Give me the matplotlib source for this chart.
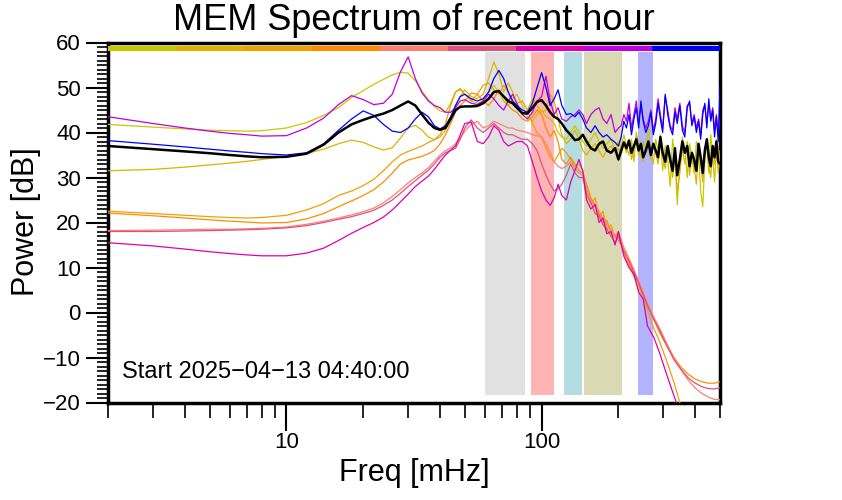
import numpy as np
import matplotlib
matplotlib.use("Agg")
import matplotlib.pyplot as plt
from matplotlib.ticker import MultipleLocator, NullFormatter, FixedLocator, FixedFormatter

plt.rcParams['font.family'] = ['Liberation Sans', 'DejaVu Sans']

# ------------------------------------------------------------
# Frequency grids [mHz]
# ------------------------------------------------------------
F_LO = [2, 3, 4, 5, 6, 7, 8, 10, 12, 14, 16, 18, 20, 22, 24, 26, 28, 30, 32, 34,
        36, 38, 40, 42, 44, 46, 48, 50, 53, 56, 59, 62, 65, 68, 71, 74, 77, 80,
        84, 88, 92, 96, 100, 104, 108, 112, 116, 120, 125, 130, 135, 140, 145,
        150, 156, 162, 168, 174, 180, 187, 194, 200]
F_FALL = [210, 220, 230, 240, 250, 260, 275, 290, 310, 330, 350, 375, 400, 425,
          450, 475, 500]
F_NOISE = [205, 210, 215, 220, 225, 230, 235, 240, 245, 250, 256, 262, 268, 274,
           280, 286, 292, 298, 305, 312, 319, 326, 333, 340, 348, 356, 364, 372,
           380, 388, 396, 404, 412, 420, 428, 436, 444, 452, 460, 468, 476, 484,
           492, 500]

# ------------------------------------------------------------
# Spectra [dB]
# ------------------------------------------------------------
yg_lo = [41.8, 41.2, 40.8, 40.5, 40.4, 40.3, 40.4, 41.0, 42.2, 43.8, 45.5, 47.8,
         49.3, 50.7, 51.8, 52.8, 53.4, 53.2, 51.5, 49.2, 47.3, 45.8, 44.8, 44.5,
         46.5, 49.0, 49.5, 48.5, 47.0, 46.5, 47.0, 49.0, 50.5, 49.0, 47.0, 46.0,
         47.5, 48.5, 46.0, 43.5, 42.5, 44.0, 45.0, 43.5, 43.0, 42.0, 40.0, 39.0,
         38.5, 40.0, 41.5, 40.0, 38.0, 37.0, 38.5, 40.0, 38.0, 36.5, 37.5, 38.5,
         36.0, 38.0]
yg_hi = [36.5, 39.5, 37.0, 35.0, 38.5, 33.5, 40.0, 37.5, 34.5, 38.0, 36.0, 41.0,
         35.0, 33.0, 38.5, 36.0, 39.5, 31.5, 37.0, 34.0, 28.0, 38.5, 35.0, 24.0,
         33.0, 39.0, 36.5, 30.0, 37.5, 34.5, 31.0, 38.0, 35.5, 27.0, 23.5, 34.0,
         37.5, 31.0, 39.5, 34.5, 29.0, 36.5, 32.0, 33.5]

gold_lo = [31.5, 31.8, 32.3, 32.8, 33.2, 33.6, 34.0, 34.7, 35.3, 36.3, 37.5, 38.3,
           37.8, 36.8, 36.1, 36.6, 38.8, 41.0, 41.6, 40.5, 39.0, 38.4, 39.0, 40.5,
           43.0, 46.0, 48.0, 49.5, 48.0, 47.5, 48.5, 52.0, 55.7, 53.0, 49.0, 51.0,
           49.0, 46.0, 44.0, 45.0, 47.5, 46.0, 44.5, 45.0, 48.5, 47.0, 43.0, 39.5,
           37.5, 38.5, 40.5, 38.5, 36.0, 35.0, 36.5, 37.5, 36.0, 34.5, 36.0, 37.0,
           35.5, 36.5]
gold_hi = [35.0, 37.5, 35.5, 38.5, 34.0, 36.5, 39.0, 35.0, 37.0, 33.5, 36.5, 38.0,
           34.0, 37.5, 35.5, 33.0, 38.5, 35.0, 32.0, 36.0, 33.5, 30.0, 34.5, 27.0,
           31.0, 36.5, 33.0, 38.0, 30.5, 35.0, 32.5, 28.5, 36.0, 33.5, 29.0, 35.5,
           37.0, 32.5, 30.0, 37.0, 33.0, 38.5, 31.0, 36.0]

or1_lo = [22.5, 22.0, 21.6, 21.3, 21.1, 21.0, 21.1, 21.6, 22.8, 24.2, 26.0, 27.0,
          28.2, 29.6, 31.5, 33.5, 35.0, 35.8, 36.4, 37.0, 37.8, 38.4, 39.5, 42.0,
          46.0, 49.0, 49.8, 48.5, 47.0, 48.5, 50.5, 51.0, 49.5, 48.5, 50.5, 49.0,
          46.5, 46.5, 47.0, 45.0, 42.0, 40.0, 39.0, 36.5, 34.5, 33.5, 35.0, 36.5,
          35.5, 34.0, 32.5, 33.0, 31.5, 27.0, 24.0, 25.5, 21.0, 22.5, 18.5, 19.5,
          16.5, 17.5]
or1_hi = [13.0, 10.5, 8.0, 5.5, 3.5, 0.5, -3.5, -6.5, -11.0, -15.5, -20.5, -24.0,
          -27.0, -29.0, -31.0, -33.0, -35.0]

or2_lo = [22.1, 21.5, 21.0, 20.6, 20.3, 20.1, 19.9, 20.0, 20.8, 22.0, 23.5, 24.8,
          26.0, 27.3, 29.0, 31.0, 33.0, 33.9, 34.3, 34.7, 35.3, 36.0, 37.5, 39.5,
          42.0, 44.5, 46.0, 47.0, 48.8, 48.5, 47.0, 46.0, 47.5, 49.5, 48.0, 46.0,
          45.0, 44.5, 43.0, 42.5, 43.5, 45.0, 44.0, 41.0, 39.0, 40.5, 38.0, 34.0,
          33.0, 34.5, 33.0, 31.5, 31.0, 28.5, 25.5, 23.5, 22.0, 20.0, 20.5, 17.5,
          17.0, 16.0]
or2_hi = [14.0, 11.0, 8.5, 6.5, 4.0, 1.5, -1.5, -4.5, -7.5, -10.0, -12.0, -13.7,
          -14.8, -15.4, -15.7, -15.7, -15.4]

salmon_lo = [18.2, 18.3, 18.4, 18.5, 18.5, 18.6, 18.7, 19.0, 19.6, 20.3, 21.0, 21.7,
             22.4, 23.2, 24.4, 25.8, 27.3, 28.8, 30.0, 31.0, 32.2, 33.6, 35.0, 36.0,
             36.6, 37.5, 38.8, 40.3, 41.8, 42.5, 41.0, 41.5, 42.5, 42.0, 41.5, 41.0,
             41.0, 40.5, 40.3, 40.0, 39.5, 39.3, 39.0, 37.5, 35.5, 33.5, 32.5, 32.0,
             32.5, 33.5, 32.0, 31.0, 30.5, 27.5, 25.0, 24.0, 22.5, 21.0, 19.5, 18.5,
             17.0, 18.0]
salmon_hi = [14.5, 12.0, 9.5, 7.0, 4.5, 2.0, -1.0, -3.5, -7.0, -10.0, -12.5, -15.0,
             -16.8, -18.0, -18.8, -19.3, -19.4]

pink_lo = [18.0, 18.0, 18.1, 18.2, 18.3, 18.4, 18.5, 18.8, 19.3, 20.0, 20.7, 21.3,
           22.0, 22.7, 23.8, 25.0, 26.5, 28.0, 29.3, 30.5, 31.6, 33.0, 34.5, 35.5,
           36.0, 36.5, 38.5, 41.0, 42.8, 41.0, 40.0, 41.0, 42.0, 41.0, 40.0, 39.5,
           39.5, 39.0, 38.5, 38.5, 37.5, 36.0, 33.0, 30.5, 28.5, 27.0, 27.5, 28.5,
           30.5, 33.0, 31.0, 30.0, 30.0, 26.0, 24.5, 22.0, 21.5, 19.5, 18.5, 17.0,
           15.5, 17.0]
pink_hi = [13.5, 11.5, 9.0, 6.5, 4.0, 1.5, -1.5, -4.0, -7.5, -10.5, -12.5, -14.5,
           -15.7, -16.5, -16.9, -17.0, -16.7]

mag_lo = [15.5, 14.8, 14.1, 13.5, 13.1, 12.8, 12.6, 12.6, 13.2, 14.3, 16.0, 17.6,
          18.9, 20.0, 21.2, 22.8, 24.6, 26.3, 28.0, 29.2, 30.3, 31.8, 33.5, 35.0,
          36.1, 37.0, 39.5, 42.0, 42.3, 38.0, 37.5, 39.0, 41.5, 40.5, 38.0, 37.0,
          37.5, 38.0, 38.0, 37.0, 33.5, 30.0, 27.0, 25.0, 23.8, 25.5, 28.5, 26.0,
          25.0, 29.0, 31.5, 34.0, 31.5, 25.0, 23.0, 24.0, 20.0, 21.0, 17.5, 18.0,
          15.0, 18.0]
mag_hi = [12.5, 10.0, 8.5, 4.5, 3.0, -3.0, -5.5, -9.0, -14.0, -18.5, -22.5, -26.0,
          -29.0, -31.0, -33.0, -35.0, -37.0]

purple_lo = [43.5, 42.0, 41.0, 40.3, 39.8, 39.5, 39.2, 39.3, 41.0, 43.2, 46.2, 48.2,
             47.3, 46.2, 46.5, 48.5, 53.5, 56.8, 52.0, 48.8, 47.0, 46.0, 45.5, 44.5,
             44.5, 45.5, 47.0, 47.3, 46.5, 46.2, 47.0, 48.5, 47.5, 46.0, 45.0, 47.0,
             48.5, 46.5, 44.0, 43.0, 44.5, 47.0, 48.0, 52.5, 47.0, 44.0, 45.5, 43.0,
             42.5, 43.5, 44.0, 45.0, 44.0, 42.0, 44.0, 45.0, 45.5, 43.0, 42.0, 44.0,
             40.0, 41.0]
purple_hi = [41.5, 44.0, 42.5, 46.5, 41.0, 44.0, 47.0, 42.0, 46.0, 43.0, 41.0, 42.5,
             45.0, 40.5, 43.0, 47.5, 44.0, 41.0, 48.0, 45.0, 41.5, 40.5, 45.5, 43.0,
             46.5, 41.5, 40.0, 46.0, 46.5, 42.0, 44.0, 41.0, 43.0, 39.5, 45.0, 46.0,
             42.0, 46.5, 43.0, 45.5, 40.5, 44.0, 39.5, 43.0]

blue_lo = [38.2, 37.4, 36.8, 36.3, 35.9, 35.6, 35.3, 35.0, 35.5, 37.5, 40.5, 43.0,
           44.8, 43.8, 41.8, 40.3, 40.0, 41.0, 43.0, 44.5, 43.5, 41.5, 40.8, 41.5,
           43.5, 46.0, 48.0, 48.5, 47.5, 47.0, 47.5, 49.0, 52.0, 53.8, 52.0, 49.0,
           47.0, 46.0, 45.0, 44.5, 46.5, 50.0, 53.3, 50.0, 46.0, 47.5, 49.5, 46.0,
           44.0, 44.2, 43.5, 44.5, 43.0, 41.0, 40.0, 41.5, 40.0, 39.0, 39.5, 38.5,
           37.8, 37.0]
blue_hi = [39.0, 42.5, 41.0, 44.0, 39.5, 43.0, 45.5, 41.0, 47.0, 42.5, 40.0, 41.5,
           44.5, 39.5, 42.0, 46.5, 43.0, 40.0, 48.5, 44.0, 41.0, 39.5, 44.5, 42.0,
           46.0, 40.5, 39.0, 45.5, 47.0, 41.5, 43.5, 40.0, 42.5, 38.5, 44.0, 46.5,
           41.0, 47.5, 42.5, 45.0, 39.0, 43.5, 38.0, 50.0]

mean_lo = [37.0, 36.3, 35.8, 35.4, 35.0, 34.7, 34.5, 34.6, 35.3, 37.3, 40.0, 41.8,
           42.8, 43.6, 44.2, 45.0, 46.0, 46.9, 46.0, 44.0, 42.2, 41.0, 40.6, 41.0,
           43.0, 45.0, 45.7, 45.8, 45.8, 45.9, 46.5, 47.5, 49.0, 49.2, 48.0, 47.0,
           46.5, 45.5, 44.3, 44.2, 45.5, 46.8, 47.2, 46.0, 44.5, 43.5, 43.0, 42.0,
           40.5, 39.5, 38.3, 38.5, 39.5, 38.0, 36.5, 36.0, 37.5, 38.0, 36.0, 35.5,
           36.5, 34.0]
mean_hi = [36.0, 37.8, 36.5, 38.2, 35.5, 37.0, 38.5, 36.0, 37.5, 34.5, 36.0, 38.0,
           35.0, 37.5, 36.0, 34.5, 39.0, 35.5, 33.5, 37.0, 34.0, 31.5, 36.5, 30.5,
           34.0, 38.0, 35.5, 37.0, 32.5, 35.5, 34.0, 31.5, 37.5, 34.5, 31.0, 36.0,
           38.5, 34.5, 32.5, 37.0, 34.5, 38.0, 33.5, 33.0]

# (name, colour, low part, high part, high-part grid)
series = [
    ("yg", "#c8c800", yg_lo, yg_hi, F_NOISE),
    ("gold", "#dcb400", gold_lo, gold_hi, F_NOISE),
    ("or1", "#f0a000", or1_lo, or1_hi, F_FALL),
    ("or2", "#ff8c00", or2_lo, or2_hi, F_FALL),
    ("salmon", "#ff7f6f", salmon_lo, salmon_hi, F_FALL),
    ("pink", "#e0507f", pink_lo, pink_hi, F_FALL),
    ("magenta", "#e000b0", mag_lo, mag_hi, F_FALL),
    ("purple", "#c000e0", purple_lo, purple_hi, F_NOISE),
    ("blue", "#0000ff", blue_lo, blue_hi, F_NOISE),
]

# Frequency bands [mHz] and their shading
bands = [(60, 86, "#e1e1e1"), (91, 112, "#ffb3b3"), (122, 144, "#b3dde0"),
         (146, 206, "#d9d9b3"), (238, 272, "#b3b3ff")]

start_txt = "Start 2025\u221204\u221213 04:40:00"

# ------------------------------------------------------------
fig = plt.figure(figsize=(8.42, 5.0), dpi=100)
ax = fig.add_axes([108 / 842, 1 - 402.5 / 500, 612 / 842, 360 / 500])

for lo, hi, c in bands:
    ax.axvspan(lo, hi, ymin=0.02, ymax=0.974, color=c, lw=0, zorder=1)

for name, col, lo_vals, hi_vals, hi_f in series:
    f = np.concatenate([F_LO, hi_f])
    v = np.concatenate([lo_vals, hi_vals])
    ax.plot(f, v, color=col, lw=0.9, zorder=3)

ax.plot(np.concatenate([F_LO, F_NOISE]), np.concatenate([mean_lo, mean_hi]),
        color="black", lw=1.8, zorder=4)

# colour key strip along the top
for i, (name, col, *_rest) in enumerate(series):
    ax.axhspan(58.1, 59.2, xmin=i / 9, xmax=(i + 1) / 9, color=col, lw=0, zorder=5)

ax.set_xscale("log")
ax.set_xlim(2, 500)
ax.set_ylim(-20, 60)

ax.set_yticks(np.arange(-20, 61, 10))
ax.set_yticklabels([str(t).replace("-", "\u2212") for t in range(-20, 61, 10)])
ax.yaxis.set_minor_locator(MultipleLocator(1))

ax.xaxis.set_major_locator(FixedLocator([10, 100]))
ax.xaxis.set_minor_locator(FixedLocator([2, 3, 4, 5, 6, 7, 8, 9, 20, 30, 40, 50, 60,
                                         70, 80, 90, 200, 300, 400, 500]))
ax.xaxis.set_major_formatter(FixedFormatter(["10", "100"]))
ax.xaxis.set_minor_formatter(NullFormatter())

ax.tick_params(axis="y", which="major", direction="out", length=15.5, width=1.5,
               labelsize=16, pad=4)
ax.tick_params(axis="y", which="minor", direction="out", length=7.7, width=1.2)
ax.tick_params(axis="x", which="major", direction="out", length=20, width=1.5,
               labelsize=16, pad=1)
ax.tick_params(axis="x", which="minor", direction="out", length=11, width=1.2)

for s in ax.spines.values():
    s.set_linewidth(2.5)

ax.text(0.023, 0.055, start_txt, transform=ax.transAxes, fontsize=17,
        ha="left", va="bottom", zorder=6)

fig.text(414 / 842, 1 - 30 / 500, "MEM Spectrum of recent hour", fontsize=26,
         ha="center", va="baseline")
fig.text(414 / 842, 1 - 481 / 500, "Freq [mHz]", fontsize=22,
         ha="center", va="baseline")
fig.text(26 / 842, 1 - 222 / 500, "Power [dB]", fontsize=22, rotation=90,
         ha="center", va="center")

fig.savefig("out.png", dpi=100)
